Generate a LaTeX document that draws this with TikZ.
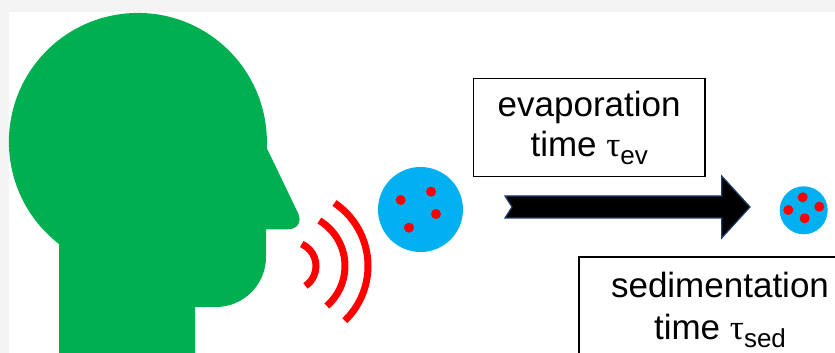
\documentclass[tikz,border=0pt]{standalone}
\usepackage{fontspec}
\setmainfont{Liberation Sans}
\newfontfamily\symfont{Liberation Serif}
\definecolor{cgreen}{HTML}{00B050}
\definecolor{cblue}{HTML}{00B0F0}
\definecolor{cred}{HTML}{FF0000}
\definecolor{cnavy}{HTML}{1F3F6E}
\definecolor{cpaper}{HTML}{F4F4F4}
\newcommand{\tausub}[1]{{\symfont τ}\raisebox{-4pt}{\fontsize{13}{13}\selectfont #1}}
\tikzset{
  every picture/.style={x=0.5pt, y=0.5pt},
  labelbox/.style={draw=black, line width=0.75pt, align=center, inner sep=0pt},
  drop/.style={circle, fill=cblue, inner sep=0pt, minimum size=#1},
  wave/.style={draw=cred, line width=3.5pt},
}

\begin{document}
\begin{tikzpicture}[font=\fontsize{17.5}{20}\selectfont]
  \fill[cpaper] (0,0) rectangle (835,353);
  \fill[white] (9,0) rectangle (835,341);
  \useasboundingbox (0,0) rectangle (835,353);
  \clip (0,0) rectangle (835,353);
  % head in profile
  \fill[cgreen] (59,0) -- (59,109) arc[start angle=232.3, end angle=-2.7, radius=129]
    -- (298,140) .. controls (302.2,131) and (297.6,123.7) .. (287.7,123.7)
    -- (266,123.7) -- (266,96) arc[start angle=0, end angle=-90, radius=50]
    -- (195,46) -- (195,0) -- cycle;
  % sound waves
  \coordinate (mouth) at (292,87);
  \foreach \r/\a/\b in {24/66/-56, 53/59/-49, 76/56/-46}
    \draw[wave] (mouth) ++(\a:\r) arc[start angle=\a, end angle=\b, radius=\r];
  % droplets
  \node[drop=42.5pt] (big) at (420.5,143.5) {};
  \node[drop=24pt] (small) at (803.7,142.7) {};
  \foreach \dx/\dy in {-19.8/9.5, 10.5/17.8, 15.5/-4.5, -11.5/-18.2}
    \fill[cred] ([shift={(\dx,\dy)}]big.center) circle[radius=5];
  \foreach \dx/\dy in {-15.4/0.3, -1/13, 15.6/3.6, 1/-8}
    \fill[cred] ([shift={(\dx,\dy)}]small.center) circle[radius=5];
  % block arrow
  \filldraw[fill=black, draw=cnavy, line width=0.6pt] (505,157) -- (512,146) -- (505,135)
    -- (721.7,135) -- (721.7,115) -- (750,146) -- (721.7,177) -- (721.7,157) -- cycle;
  \node[labelbox, minimum width=115.8pt, minimum height=49.2pt] (evap) at (589.2,225.5)
    {evaporation\\time \tausub{ev}};
  \node[labelbox, minimum width=141pt, minimum height=53pt, font=\fontsize{17.5}{21}\selectfont]
    (sedi) at (720,43) {sedimentation\\time \tausub{sed}};
\end{tikzpicture}
\end{document}
